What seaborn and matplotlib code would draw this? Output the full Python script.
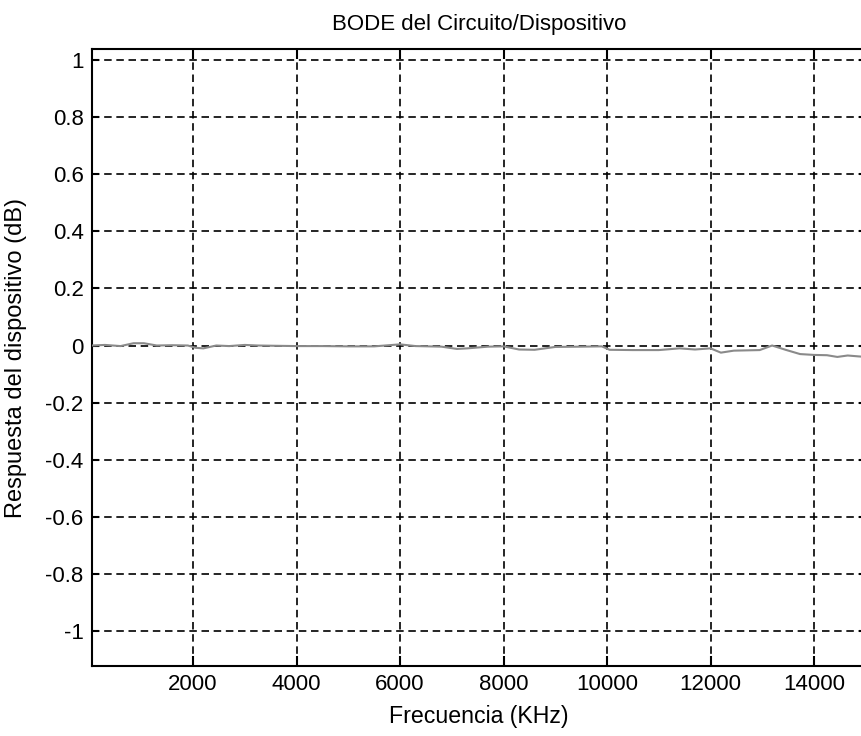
import matplotlib
matplotlib.use("Agg")
import matplotlib.pyplot as plt
import seaborn as sns
import pandas as pd

# Measured frequency response of the device
freq_khz = [50, 300, 600, 850, 1050, 1300, 1600, 1900, 2050, 2200, 2450, 2700,
            3000, 3250, 3600, 4000, 4500, 5000, 5500, 6000, 6300, 6800, 7100,
            7300, 7700, 8000, 8300, 8600, 9000, 9500, 9900, 10050, 10500, 11000,
            11400, 11700, 12000, 12200, 12450, 12950, 13190, 13450, 13730, 14000,
            14250, 14450, 14650, 14850, 15000]
resp_db = [0.0, 0.002, -0.002, 0.008, 0.008, 0.0, 0.001, 0.0, -0.008, -0.01,
           0.0, -0.002, 0.002, 0.0, -0.001, -0.002, -0.002, -0.003, -0.003,
           0.004, -0.002, -0.004, -0.012, -0.01, -0.004, -0.003, -0.014, -0.015,
           -0.005, -0.004, -0.003, -0.015, -0.016, -0.016, -0.01, -0.014, -0.01,
           -0.025, -0.018, -0.016, 0.0, -0.015, -0.03, -0.033, -0.034, -0.04,
           -0.035, -0.038, -0.04]

x_ticks = [2000, 4000, 6000, 8000, 10000, 12000, 14000]
y_ticks = [-1, -0.8, -0.6, -0.4, -0.2, 0, 0.2, 0.4, 0.6, 0.8, 1]
y_tick_labels = ["-1", "-0.8", "-0.6", "-0.4", "-0.2", "0", "0.2", "0.4",
                 "0.6", "0.8", "1"]

sns.set_style("white")
plt.rcParams["font.family"] = ["Liberation Sans", "DejaVu Sans"]
plt.rcParams["text.color"] = "black"
plt.rcParams["axes.labelcolor"] = "black"

df = pd.DataFrame({"Frecuencia (KHz)": freq_khz, "Respuesta": resp_db})

fig = plt.figure(figsize=(8.61, 7.36), dpi=100)
ax = fig.add_axes([0.10685, 0.0951, 0.8987, 0.8383])

sns.lineplot(data=df, x="Frecuencia (KHz)", y="Respuesta", ax=ax,
             color="#8a8a8a", linewidth=1.5, zorder=3)

ax.set_xlim(48, 15000)
ax.set_ylim(-1.1226, 1.0385)
ax.set_xticks(x_ticks)
ax.set_xticklabels([str(v) for v in x_ticks])
ax.set_yticks(y_ticks)
ax.set_yticklabels(y_tick_labels)

ax.grid(True, color="black", linestyle=(0, (4.5, 2.8)), linewidth=1.2, zorder=1)
for s in ax.spines.values():
    s.set_color("black")
    s.set_linewidth(1.5)
    s.set_visible(True)

ax.tick_params(axis="x", direction="in", length=7, width=1.5, top=True,
               bottom=True, labelsize=16, pad=6, colors="black")
ax.tick_params(axis="y", direction="in", length=5, width=1.5, left=True,
               right=True, labelsize=16, pad=6, colors="black")

ax.set_title("BODE del Circuito/Dispositivo", fontsize=16, pad=14, color="black")
ax.set_xlabel("Frecuencia (KHz)", fontsize=16.7, labelpad=7)
ax.set_ylabel("Respuesta del dispositivo (dB)", fontsize=17, labelpad=13)

fig.savefig("out.png", dpi=100, facecolor="white")
